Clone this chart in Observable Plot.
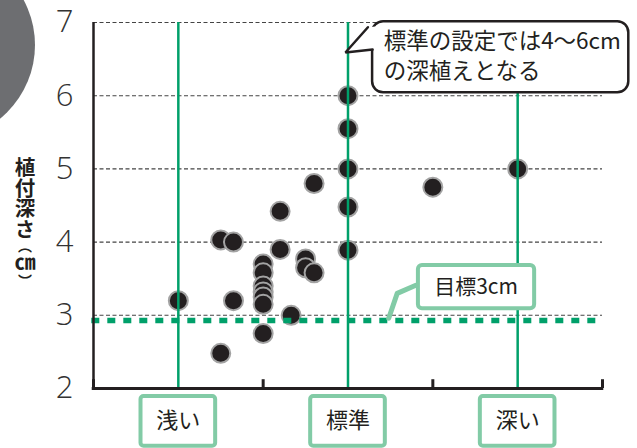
<!DOCTYPE html>
<html><head><meta charset="utf-8">
<script src="https://cdn.jsdelivr.net/npm/d3@7"></script>
<script src="https://cdn.jsdelivr.net/npm/@observablehq/plot@0.6"></script>
<style>
body{margin:0;background:#fff}
#chart{position:relative;width:637px;height:448px;overflow:hidden}
#ylabel{position:absolute;left:14px;top:157px;font-family:'Noto Sans CJK JP','Noto Sans',sans-serif;font-size:20.5px;font-weight:700;line-height:1;writing-mode:vertical-rl;color:#231f20;letter-spacing:0}
#ylabel .p{font-size:14px}
#ylabel .u{text-orientation:upright;font-size:21px}
</style>
</head><body><div id="chart"><div id="ylabel"></div></div>
<script>
// ---- data ----
const xCategories = ["浅い", "標準", "深い"];
const categoryX = [1, 3, 5];
const xTicks = [0, 1, 2, 3, 4, 5, 6];
const yTicks = [2, 3, 4, 5, 6, 7];
const gridY = [3, 4, 5, 6, 7];
const depthX = [1, 1.5, 1.5, 1.65, 1.65, 2, 2, 2, 2, 2, 2, 2, 2.2, 2.2, 2.33, 2.5, 2.5, 2.6, 2.6, 3, 3, 3, 3, 3, 4, 5];
const depthY = [3.2, 2.48, 4.03, 4.0, 3.2, 3.7, 3.58, 3.4, 3.32, 3.25, 3.15, 2.75, 4.42, 3.9, 3.0, 3.77, 3.65, 3.58, 4.8, 6.0, 5.55, 5.0, 4.48, 3.89, 4.75, 5.0];
const targetDepth = 2.93;
const targetLabel = "目標3cm";
const noteLines = ["標準の設定では4〜6cm", "の深植えとなる"];
const yLabelMain = "植付深さ";
const yLabelUnit = "㎝";

const points = depthX.map((x, i) => ({x, y: depthY[i]}));
const cats = xCategories.map((name, i) => ({name, x: categoryX[i]}));

const JP = "'Noto Sans CJK JP', 'Noto Sans', sans-serif";
const GREEN = "#00a06a";
const LGREEN = "#82cba6";
const INK = "#231f20";

const plot = Plot.plot({
  width: 637, height: 448,
  marginTop: 22, marginRight: 35, marginBottom: 60, marginLeft: 93,
  x: {domain: [0, 6], axis: null},
  y: {domain: [2, 7], axis: null},
  style: {fontFamily: JP, background: "white", overflow: "visible"},
  marks: [
    Plot.ruleY(gridY, {x1: 0, x2: 6, stroke: "#444", strokeWidth: 1.1, strokeDasharray: "4,2.5"}),
    Plot.dot(points, {x: "x", y: "y", r: 9.5, fill: INK, stroke: "#a3a3a3", strokeWidth: 2}),
    Plot.ruleX(categoryX, {y1: 2, y2: 7, stroke: GREEN, strokeWidth: 2.5}),
    Plot.ruleY([targetDepth], {x1: -0.02, x2: 5.95, stroke: GREEN, strokeWidth: 5.5, strokeDasharray: "8,8"}),
    // axes
    Plot.ruleX([0], {y1: 2, y2: 7, stroke: INK, strokeWidth: 2.5}),
    Plot.ruleY([2], {x1: -0.015, x2: 6.015, stroke: INK, strokeWidth: 3.2}),
    Plot.ruleX(xTicks.filter(d => !categoryX.includes(d)), {y1: 2, y2: 2.12, stroke: INK, strokeWidth: 3}),
    Plot.axisY(yTicks, {tickSize: 0, tickPadding: 20, tickFormat: d3.format("d"), fontSize: 31, fontWeight: 300, fill: "#333", fontFamily: "'Open Sans', Roboto, sans-serif", label: null}),
    // target callout
    Plot.line([[3.80, 3.41], [3.58, 3.30], [3.48, 2.96]], {x: d => d[0], y: d => d[1], stroke: LGREEN, strokeWidth: 5}),
    Plot.rect([targetLabel], {x1: 3.83, x2: 5.20, y1: 3.09, y2: 3.68, fill: "white", stroke: LGREEN, strokeWidth: 4, rx: 4}),
    Plot.text([targetLabel], {x: 4.51, y: 3.385, text: d => d, fontSize: 21, fill: INK}),
    // note bubble
    Plot.rect([0], {x1: 3.29, x2: 6.31, y1: 6.04, y2: 7.01, fill: "white", stroke: INK, strokeWidth: 2.5, rx: 11}),
    Plot.line([[3.235, 6.93], [2.97, 6.59], [3.29, 6.63], [3.34, 6.63], [3.34, 6.95]], {x: d => d[0], y: d => d[1], fill: "white", stroke: null}),
    Plot.line([[3.235, 6.935], [2.97, 6.59], [3.29, 6.63]], {x: d => d[0], y: d => d[1], stroke: INK, strokeWidth: 2.5, strokeLinejoin: "miter"}),
    Plot.text(noteLines, {x: 3.42, y: (d, i) => [6.73, 6.32][i], text: d => d, textAnchor: "start", fontSize: 22.5, fill: INK}),
    // category boxes
    Plot.rect(cats, {x1: d => d.x - 0.44, x2: d => d.x + 0.44, y1: 1.21, y2: 1.89, fill: "white", stroke: LGREEN, strokeWidth: 4, rx: 3}),
    Plot.text(cats, {x: "x", y: 1.55, text: "name", fontSize: 22, fill: INK})
  ]
});

const svg = d3.select(plot);
svg.insert("circle", ":first-child").attr("cx", -60).attr("cy", 45).attr("r", 95).attr("fill", "#6d6e71");
plot.style.position = "absolute";
plot.style.left = "0";
plot.style.top = "0";
const chart = document.getElementById("chart");
chart.insertBefore(plot, chart.firstChild);
const yl = d3.select("#ylabel");
yl.append("span").text(yLabelMain);
yl.append("span").attr("class", "p").text("（");
yl.append("span").attr("class", "u").text(yLabelUnit);
yl.append("span").attr("class", "p").text("）");
</script>
</body></html>
